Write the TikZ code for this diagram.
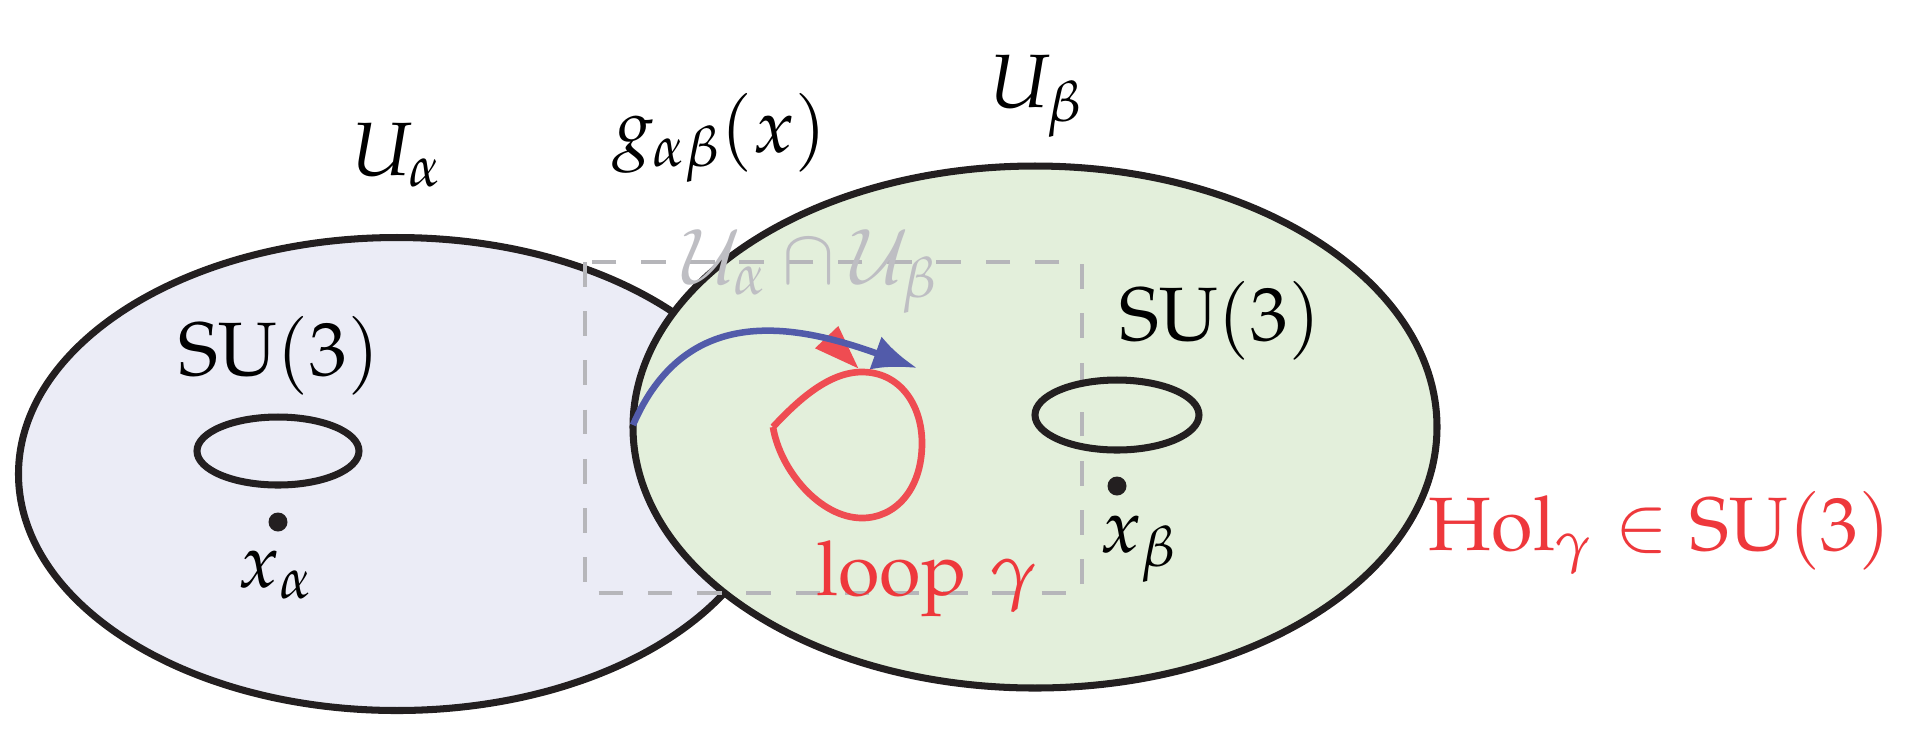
\documentclass[tikz,border=0pt]{standalone}
\usepackage{mathpazo}
\usetikzlibrary{arrows.meta}
\definecolor{lav}{RGB}{235,236,246}
\definecolor{lgreen}{RGB}{227,239,219}
\definecolor{ink}{RGB}{35,31,32}
\definecolor{bluearr}{RGB}{82,91,170}
\definecolor{redl}{RGB}{239,76,82}
\definecolor{redt}{RGB}{238,56,60}
\definecolor{grayd}{RGB}{182,182,186}
\definecolor{grayt}{RGB}{190,190,195}
\tikzset{
  region/.style={draw=ink, line width=2pt},
  fibre/.style={draw=ink, line width=2pt},
  overlapbox/.style={draw=grayd, line width=1.1pt, dash pattern=on 7pt off 7pt},
  looppath/.style={draw=redl, line width=1.9pt, line join=round},
  transport/.style={draw=bluearr, line width=1.85pt, -{Latex[length=12.5pt,width=10pt]}},
  lbl/.style={inner sep=0pt, anchor=base, font=\fontsize{21.5}{26}\selectfont},
}
\begin{document}
\begin{tikzpicture}[x=0.01cm,y=-0.01cm]
\useasboundingbox (0,0) rectangle (1932,738);
% open sets
\path[region, fill=lav] (397,474) ellipse [x radius=378.5, y radius=236.5];
\path[region, fill=lgreen] (1035,427) ellipse [x radius=402, y radius=261];
% overlap box
\draw[overlapbox] (585,262) rectangle (1082,593);
% fibres
\path[fibre] (278,451) ellipse [x radius=81, y radius=34];
\path[fibre] (1117,415) ellipse [x radius=82, y radius=35];
\fill[ink] (278,522) circle [radius=9.5];
\fill[ink] (1117,486) circle [radius=9.5];
% loop gamma
\coordinate (cusp) at (773,427);
\coordinate (ltop) at (862,372);
\coordinate (lright) at (922,443);
\coordinate (lbot) at (862,518);
\draw[looppath] (cusp) .. controls (800,398) and (830,372) .. (ltop)
  .. controls (900,372) and (922,405) .. (lright)
  .. controls (922,490) and (895,518) .. (lbot)
  .. controls (820,518) and (780,470) .. (cusp);
\coordinate (ra) at (838.3,326);
\coordinate (rb) at (815,348.3);
\coordinate (rc) at (858.3,368.3);
\fill[redl] (ra) -- (rb) -- (rc) -- cycle;
% transition function arrow
\coordinate (bstart) at (633,425);
\coordinate (bend) at (917,368);
\draw[transport] (bstart) .. controls (685,305) and (790,322) .. (bend);
% labels
\node[lbl] (Ua) at (397,175) {$U_\alpha$};
\node[lbl] (gab) at (720,152) {$g_{\alpha\beta}(x)$};
\node[lbl] (Ub) at (1036,107) {$U_\beta$};
\node[lbl, text=grayt] (UaUb) at (810,283) {$\mathcal{U}_\alpha\cap\mathcal{U}_\beta$};
\node[lbl] (sua) at (279,375) {$\mathrm{SU}(3)$};
\node[lbl] (sub) at (1220,340) {$\mathrm{SU}(3)$};
\node[lbl] (xa) at (276,587) {$x_\alpha$};
\node[lbl] (xb) at (1139,552) {$x_\beta$};
\node[lbl, text=redt] (hol) at (1660,550) {$\mathrm{Hol}_\gamma\in\mathrm{SU}(3)$};
\node[lbl, text=redt] (loopl) at (927,595) {$\mathrm{loop}\ \gamma$};
\end{tikzpicture}
\end{document}
